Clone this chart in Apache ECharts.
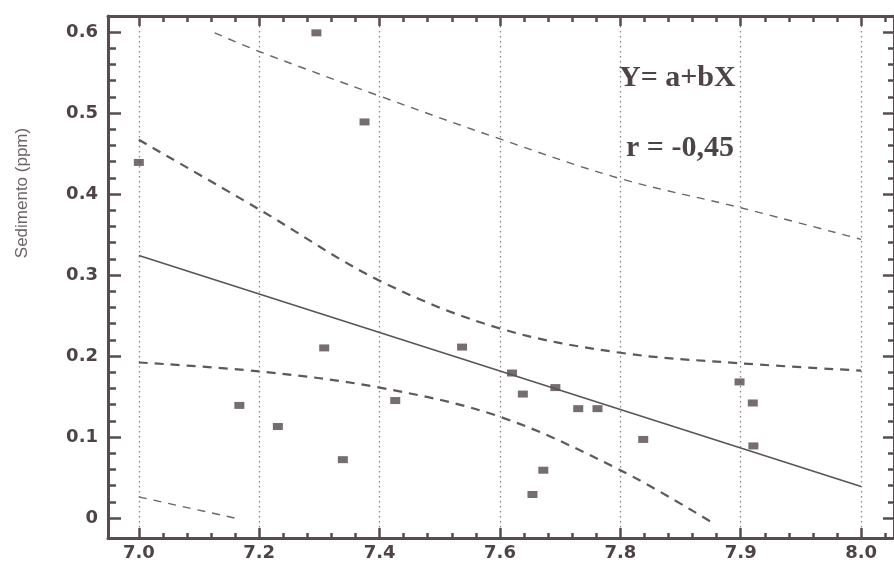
<!DOCTYPE html>
<html>
<head>
<meta charset="utf-8">
<script src="https://cdn.jsdelivr.net/npm/echarts@6/dist/echarts.min.js"></script>
<style>
  html, body { margin: 0; padding: 0; background: #ffffff; }
  #chart { width: 894px; height: 565px; }
</style>
</head>
<body>
<div id="chart"></div>
<script>
// Sediment concentration against pH, with fitted line and confidence / prediction bands

// Axis ticks and their printed labels
const xTicks = [7.0, 7.2, 7.4, 7.6, 7.8, 8.0, 8.2];
const xTickLabels = ['7.0', '7.2', '7.4', '7.6', '7.8', '7.9', '8.0'];
const yTicks = [0, 0.1, 0.2, 0.3, 0.4, 0.5, 0.6];
const yTickLabels = ['0', '0.1', '0.2', '0.3', '0.4', '0.5', '0.6'];

// Observed samples
const sampleX = [7.000, 7.295, 7.375, 7.167, 7.231, 7.308, 7.339, 7.426, 7.537, 7.620,
                 7.638, 7.692, 7.730, 7.762, 7.672, 7.654, 7.838, 7.998, 8.020, 8.021];
const sampleY = [0.439, 0.599, 0.489, 0.139, 0.113, 0.210, 0.072, 0.145, 0.211, 0.179,
                 0.153, 0.161, 0.135, 0.135, 0.059, 0.029, 0.097, 0.168, 0.142, 0.089];

// Fitted line Y = a + bX
const fitX = [7.0, 8.2];
const fitY = [0.324, 0.039];

// Confidence band of the fit
const confUpperX = [7.0, 7.2, 7.4, 7.6, 7.8, 8.0, 8.2];
const confUpperY = [0.467, 0.381, 0.293, 0.234, 0.204, 0.191, 0.182];
const confLowerX = [7.0, 7.2, 7.4, 7.6, 7.8, 7.949];
const confLowerY = [0.192, 0.181, 0.161, 0.125, 0.059, -0.004];

// Prediction band
const predUpperX = [7.126, 7.2, 7.4, 7.6, 7.8, 8.0, 8.2];
const predUpperY = [0.599, 0.576, 0.521, 0.468, 0.419, 0.383, 0.344];
const predLowerX = [7.0, 7.159];
const predLowerY = [0.026, 0.0];

const zip = (xs, ys) => xs.map((x, i) => [x, ys[i]]);

const INK = '#4d4348';
const AXIS = '#5a4b51';

// minor tick positions: four between each pair of major ticks
function minors(majors, extraAfter) {
  const out = [];
  for (let i = 0; i < majors.length - 1; i++) {
    const step = (majors[i + 1] - majors[i]) / 5;
    for (let k = 1; k < 5; k++) out.push(+(majors[i] + k * step).toFixed(4));
  }
  if (extraAfter) {
    const last = majors[majors.length - 1];
    const step = (last - majors[majors.length - 2]) / 5;
    out.push(+(last + step).toFixed(4));
  }
  return out;
}
const xMinor = minors(xTicks, true);
const yMinor = minors(yTicks, false);

const X_MIN = 6.9488, X_MAX = 8.2546;
const Y_MIN = -0.0247, Y_MAX = 0.6198;

const labelFont = { fontFamily: 'DejaVu Sans', fontWeight: 'bold', fontSize: 18, color: INK };

function xAxisDef(position, values, len, width, opts) {
  return Object.assign({
    type: 'value', position, min: X_MIN, max: X_MAX,
    axisLine: { show: false, onZero: false },
    axisTick: { show: true, inside: true, length: len, customValues: values,
                lineStyle: { color: AXIS, width } },
    axisLabel: { show: false },
    splitLine: { show: false }
  }, opts || {});
}
function yAxisDef(position, values, len, width, opts) {
  return Object.assign({
    type: 'value', position, min: Y_MIN, max: Y_MAX,
    axisLine: { show: false, onZero: false },
    axisTick: { show: true, inside: true, length: len, customValues: values,
                lineStyle: { color: AXIS, width } },
    axisLabel: { show: false },
    splitLine: { show: false }
  }, opts || {});
}

const chart = echarts.init(document.getElementById('chart'), null, { renderer: 'canvas' });

chart.setOption({
  animation: false,
  backgroundColor: '#ffffff',
  grid: { left: 108, top: 16, width: 790, height: 522, containLabel: false },
  xAxis: [
    xAxisDef('bottom', xTicks, 10, 2.5, {
      axisLine: { show: true, onZero: false, lineStyle: { color: AXIS, width: 3 } },
      axisLabel: {
        show: true, customValues: xTicks, margin: 6, ...labelFont,
        formatter: v => xTickLabels[xTicks.findIndex(t => Math.abs(t - v) < 1e-6)]
      },
      splitLine: { show: true, lineStyle: { color: '#8a8386', width: 1.3, type: [1.5, 3.5] } }
    }),
    xAxisDef('bottom', xMinor, 5, 2.5),
    xAxisDef('top', xTicks, 10, 2.5, {
      axisLine: { show: true, onZero: false, lineStyle: { color: AXIS, width: 3 } }
    }),
    xAxisDef('top', xMinor, 6, 2.5)
  ],
  yAxis: [
    yAxisDef('left', yTicks, 13, 2.5, {
      axisLine: { show: true, onZero: false, lineStyle: { color: AXIS, width: 3 } },
      axisLabel: {
        show: true, customValues: yTicks, margin: 10, ...labelFont,
        formatter: v => yTickLabels[yTicks.findIndex(t => Math.abs(t - v) < 1e-6)]
      }
    }),
    yAxisDef('left', yMinor, 8, 2.5),
    yAxisDef('right', yTicks, 11, 2.5, {
      axisLine: { show: true, onZero: false, lineStyle: { color: AXIS, width: 3 } }
    }),
    yAxisDef('right', yMinor, 6, 2.5)
  ],
  series: [
    {
      name: 'Banda de predição superior', type: 'line', data: zip(predUpperX, predUpperY),
      showSymbol: false, silent: true, smooth: 0.35,
      lineStyle: { color: '#6b6468', width: 1.4, type: [8, 7] }
    },
    {
      name: 'Banda de predição inferior', type: 'line', data: zip(predLowerX, predLowerY),
      showSymbol: false, silent: true,
      lineStyle: { color: '#6b6468', width: 1.4, type: [8, 7] }
    },
    {
      name: 'Confiança superior', type: 'line', data: zip(confUpperX, confUpperY),
      showSymbol: false, silent: true, smooth: 0.35,
      lineStyle: { color: '#5e575b', width: 2.2, type: [9, 7] }
    },
    {
      name: 'Confiança inferior', type: 'line', data: zip(confLowerX, confLowerY),
      showSymbol: false, silent: true, smooth: 0.35,
      lineStyle: { color: '#5e575b', width: 2.2, type: [9, 7] }
    },
    {
      name: 'Ajuste', type: 'line', data: zip(fitX, fitY),
      showSymbol: false, silent: true,
      lineStyle: { color: '#5a5357', width: 1.6, type: 'solid' }
    },
    {
      name: 'Amostras', type: 'scatter', data: zip(sampleX, sampleY),
      symbol: 'rect', symbolSize: [10, 7],
      itemStyle: { color: '#54494e' }
    }
  ],
  graphic: [
    {
      type: 'text', x: 22, y: 193, rotation: Math.PI / 2,
      style: { text: 'Sedimento (ppm)', font: '17px "Liberation Sans"', fill: '#6a6266',
               textAlign: 'center', textVerticalAlign: 'middle' }
    },
    {
      type: 'text', left: 619, top: 63,
      style: { text: 'Y= a+bX', font: 'bold 30px "Liberation Serif"', fill: INK }
    },
    {
      type: 'text', left: 626, top: 133,
      style: { text: 'r = -0,45', font: 'bold 30px "Liberation Serif"', fill: INK }
    }
  ]
});
</script>
</body>
</html>
